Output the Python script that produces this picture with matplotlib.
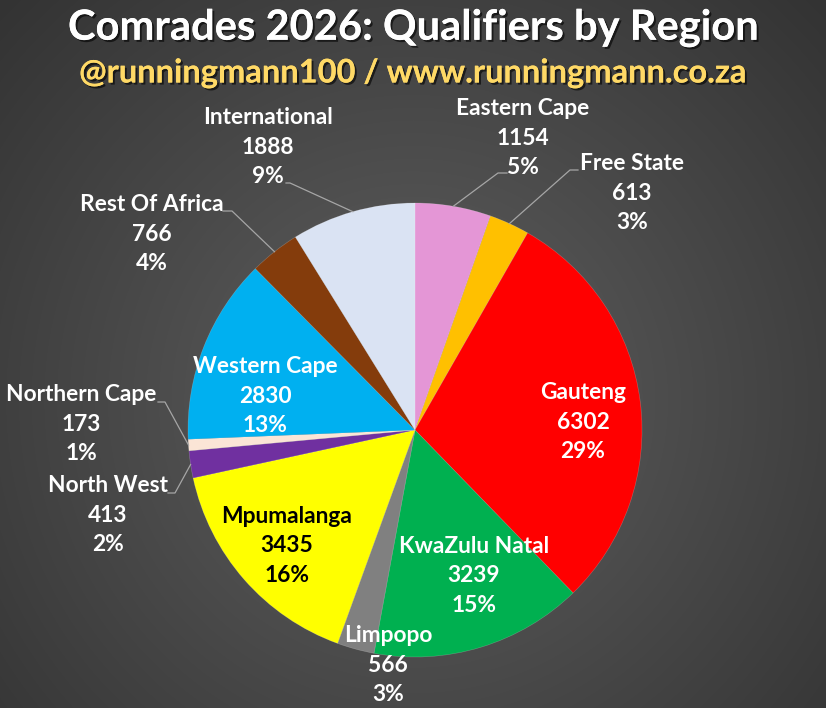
import numpy as np
import matplotlib
matplotlib.use("Agg")
import matplotlib.pyplot as plt
import matplotlib.patheffects as pe

# ---- data ----
regions = ["Eastern Cape", "Free State", "Gauteng", "KwaZulu Natal", "Limpopo",
           "Mpumalanga", "North West", "Northern Cape", "Western Cape",
           "Rest Of Africa", "International"]
qualifiers = [1154, 613, 6302, 3239, 566, 3435, 413, 173, 2830, 766, 1888]
colors = ["#E496D6", "#FFC000", "#FF0000", "#00B050", "#808080", "#FFFF00",
          "#7030A0", "#FBE5D6", "#00B0F0", "#843C0C", "#DAE3F3"]
title = "Comrades 2026: Qualifiers by Region"
subtitle = "@runningmann100 / www.runningmann.co.za"

# ---- layout (pixels) ----
W, H = 826, 708
CX, CY, R = 415, 430, 227
# label centre (x, middle line y), text colour, leader elbow (x,y) and end x
labels_layout = {
    "Eastern Cape":   (523, 138, "white", (498, 173), 507),
    "Free State":     (632, 193, "white", (570, 170), 578),
    "Gauteng":        (583, 422, "white", None, None),
    "KwaZulu Natal":  (474, 576, "white", None, None),
    "Limpopo":        (388, 665, "white", None, None),
    "Mpumalanga":     (287, 546, "black", None, None),
    "North West":     (108, 515, "white", (175, 493), 168),
    "Northern Cape":  (81, 424, "white", (165, 402), 158),
    "Western Cape":   (265, 396, "white", None, None),
    "Rest Of Africa": (152, 234, "white", (232, 211), 223),
    "International":  (268, 147, "white", (290, 183), 286),
}
LINE_GAP = 29.5
FONT = ["Lato", "DejaVu Sans"]

def px(x, y):
    return (x - CX) / R, (CY - y) / R

fig = plt.figure(figsize=(W / 100, H / 100), dpi=100)
ax = fig.add_axes([0, 0, 1, 1])
x0, y0 = px(0, H)
x1, y1 = px(W, 0)

# background radial gradient
gy, gx = np.mgrid[0:H, 0:W]
d = np.sqrt(((gx - 413) / 560.0) ** 2 + ((gy - 400) / 560.0) ** 2)
d = np.clip(d, 0, 1)
c_in, c_out = 96 / 255, 52 / 255
val = c_in + (c_out - c_in) * d
img = np.dstack([val, val, val])
ax.imshow(img, extent=(x0, x1, y0, y1), origin="upper", zorder=0, aspect="auto")

total = sum(qualifiers)
wedges, _ = ax.pie(qualifiers, colors=colors, startangle=90, counterclock=False,
                   radius=1, center=(0, 0),
                   wedgeprops=dict(linewidth=0.4, edgecolor=(1, 1, 1, 0.25), zorder=2))
ax.set_xlim(x0, x1)
ax.set_ylim(y0, y1)
ax.set_aspect("auto")
ax.axis("off")

for w, name, val_ in zip(wedges, regions, qualifiers):
    lx, ly, tc, elbow, endx = labels_layout[name]
    pct = f"{round(100 * val_ / total):d}%"
    for k, line in enumerate([name, str(val_), pct]):
        tx, ty = px(lx, ly + (k - 1) * LINE_GAP)
        ax.text(tx, ty, line, ha="center", va="center", color=tc,
                fontsize=16.4, fontweight="bold", family=FONT, zorder=5)
    if elbow is not None:
        ang = np.deg2rad((w.theta1 + w.theta2) / 2)
        sx, sy = np.cos(ang), np.sin(ang)
        ex, ey = px(*elbow)
        fx, fy = px(endx, elbow[1])
        ax.plot([sx, ex, fx], [sy, ey, fy], color="#A6A6A6", lw=0.9, zorder=4)

shadow = [pe.withSimplePatchShadow(offset=(1.5, -1.5), shadow_rgbFace="black", alpha=0.6), pe.Normal()]
fig.text(0.5, 1 - 28 / H, title, ha="center", va="center", color="white",
         fontsize=30, fontweight="bold", family=FONT, path_effects=shadow)
fig.text(0.5, 1 - 73 / H, subtitle, ha="center", va="center", color="#FFD966",
         fontsize=23.5, fontweight="bold", family=FONT, path_effects=shadow)

fig.savefig("out.png", dpi=100)
